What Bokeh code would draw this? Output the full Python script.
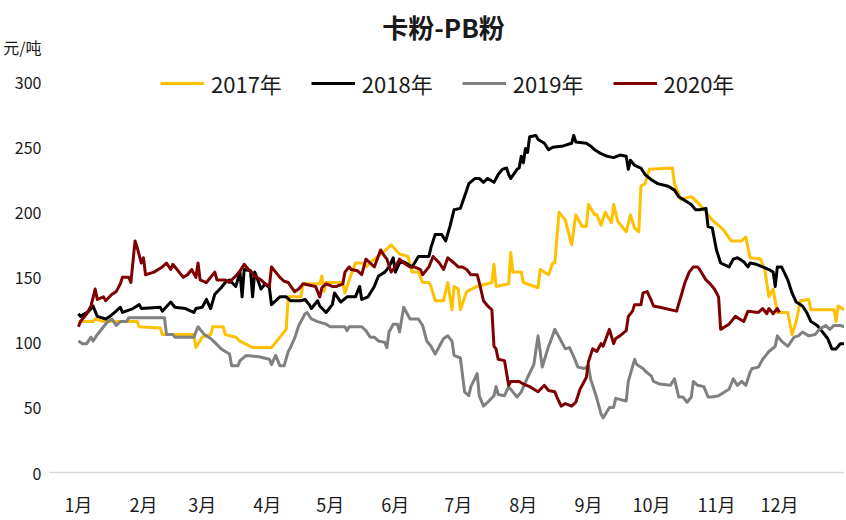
from bokeh.plotting import figure
from bokeh.models import Range1d, FixedTicker, Legend, LegendItem, Label
from bokeh.embed import file_html
from bokeh.resources import INLINE

title_text = "卡粉-PB粉"
unit_text = "元/吨"
month_days = [0, 31, 59, 90, 120, 151, 181, 212, 243, 273, 304, 334]
month_labels = ["1月", "2月", "3月", "4月", "5月", "6月", "7月", "8月", "9月", "10月", "11月", "12月"]
y_ticks = [0, 50, 100, 150, 200, 250, 300]
series_names = ["2017年", "2018年", "2019年", "2020年"]
series_colors = ["#FFC000", "#000000", "#808080", "#7F0000"]

# (day of year, value)
s2017 = [(0,116),(7,116),(8,118),(12,116),(28,116),(29,112),(39,111),(40,106),(55,106),(56,96),(59,104),
         (63,106),(64,112),(69,112),(70,106),(75,104),(77,101),(83,96),(92,96),(99,110),(100,135),(106,135),
         (107,145),(115,145),(116,151),(117,139),(118,146),(123,146),(126,146),(127,138),(129,148),(132,161),
         (135,161),(137,158),(141,164),(145,169),(149,175),(153,168),(157,166),(159,154),(162,154),(164,146),
         (167,146),(168,143),(170,132),(174,132),(176,146),(178,125),(179,143),(181,141),(182,125),(185,139),
         (190,143),(197,146),(198,160),(199,143),(205,145),(206,169),(207,154),(211,154),(212,146),(219,142),
         (220,156),(224,152),(226,161),(227,161),(229,200),(232,194),(235,175),(237,198),(240,189),(242,189),
         (243,206),(246,198),(247,198),(249,190),(251,200),(254,192),(255,206),(257,193),(261,185),(263,198),
         (265,188),(267,185),(268,220),(270,222),(272,233),(283,234),(284,222),(287,210),(292,212),(296,206),
         (300,198),(302,194),(307,187),(308,185),(311,178),(316,178),(318,181),(320,165),(325,164),(327,156),
         (329,135),(331,141),(333,123),(338,123),(340,106),(342,116),(344,132),(348,133),(349,125),(360,125),
         (361,116),(362,128),(365,125)]

s2018 = [(0,122),(1,120),(5,124),(7,128),(9,120),(13,118),(15,120),(18,124),(20,127),(21,123),(26,126),
         (29,129),(30,126),(39,127),(40,124),(44,131),(46,127),(51,126),(55,123),(56,126),(59,127),(61,133),
         (63,126),(65,137),(68,142),(70,146),(72,148),(75,143),(77,154),(78,135),(79,156),(82,155),(83,135),
         (84,154),(85,150),(87,141),(89,145),(91,142),(92,129),(96,135),(99,135),(101,132),(106,132),(108,133),
         (110,129),(111,126),(114,132),(115,128),(118,123),(121,129),(122,138),(125,131),(128,135),(132,135),
         (134,143),(135,133),(138,135),(141,143),(143,151),(146,154),(148,158),(150,165),(151,154),(153,161),
         (155,162),(159,158),(162,166),(167,166),(168,173),(170,183),(173,183),(175,178),(177,189),(179,202),
         (182,203),(185,217),(186,222),(189,226),(191,226),(193,223),(195,226),(198,223),(200,229),(202,233),
         (204,234),(205,229),(206,226),(209,233),(210,234),(211,243),(212,238),(213,249),(214,246),(215,258),
         (218,259),(219,256),(222,253),(224,248),(226,250),(231,251),(235,253),(236,259),(237,254),(242,253),
         (244,251),(246,248),(249,245),(252,243),(255,242),(258,244),(261,243),(262,233),(263,240),(265,236),
         (268,234),(270,229),(273,225),(276,222),(281,220),(284,217),(286,212),(288,210),(292,206),(294,202),
         (296,202),(299,203),(300,189),(302,188),(304,171),(306,161),(310,158),(312,164),(314,165),(317,162),
         (319,158),(320,161),(323,160),(326,158),(329,156),(331,154),(332,143),(333,158),(335,158),(338,148),
         (340,138),(342,131),(345,128),(347,123),(349,116),(352,113),(354,109),(357,103),(359,95),(361,95),
         (363,99),(365,99)]

s2019 = [(0,101),(2,99),(4,99),(6,104),(7,101),(9,106),(12,112),(14,116),(16,118),(18,113),(20,116),
         (23,116),(24,119),(41,119),(42,106),(45,106),(46,104),(55,104),(57,112),(60,106),(63,103),(65,100),
         (68,95),(70,93),(72,91),(73,82),(76,82),(77,86),(80,90),(86,89),(91,87),(92,83),(94,90),(96,82),
         (98,82),(100,93),(101,96),(103,103),(105,113),(108,122),(109,123),(111,118),(114,116),(118,114),
         (120,112),(127,112),(128,109),(129,112),(135,112),(137,109),(139,104),(141,104),(143,101),(146,100),
         (147,96),(148,108),(150,114),(152,114),(153,108),(155,127),(158,118),(162,118),(164,113),(166,101),
         (168,97),(170,91),(172,97),(174,103),(176,105),(178,101),(179,90),(182,88),(184,62),(186,59),(187,66),
         (190,76),(191,59),(193,51),(195,54),(198,59),(199,66),(200,60),(203,59),(205,66),(207,62),(209,58),
         (211,62),(214,73),(217,83),(219,105),(221,81),(224,97),(225,101),(227,110),(230,101),(232,95),
         (234,96),(236,89),(238,81),(241,80),(243,82),(244,72),(247,57),(249,45),(250,42),(253,50),(255,50),
         (256,57),(261,55),(262,70),(265,87),(266,83),(269,80),(270,78),(273,74),(274,70),(277,68),(282,67),
         (284,72),(286,58),(288,58),(290,54),(292,58),(293,70),(295,67),(298,66),(300,58),(302,58),(305,59),
         (308,62),(310,64),(312,72),(314,67),(316,70),(318,67),(320,77),(321,80),(324,81),(326,87),(329,93),
         (332,97),(333,105),(335,101),(338,97),(341,104),(343,105),(345,108),(348,105),(351,106),(353,110),
         (356,113),(358,110),(360,113),(363,113),(365,112)]

s2020 = [(0,112),(1,116),(4,122),(6,128),(8,141),(9,133),(12,135),(13,132),(16,137),(18,139),(20,145),
         (21,150),(24,150),(25,146),(27,178),(28,173),(30,161),(31,165),(32,152),(36,154),(38,156),(40,158),
         (42,161),(44,156),(45,160),(47,156),(50,150),(52,152),(54,156),(56,150),(57,161),(58,148),(61,146),
         (65,154),(66,148),(70,148),(72,146),(73,148),(75,151),(77,155),(79,160),(81,156),(82,155),(84,151),
         (87,148),(89,145),(91,143),(92,158),(94,154),(96,150),(98,147),(100,146),(103,139),(105,141),(107,145),
         (113,143),(115,135),(116,142),(118,145),(121,143),(123,143),(126,145),(127,154),(129,158),(130,156),
         (133,155),(135,152),(137,164),(139,161),(141,158),(144,171),(146,166),(147,164),(149,154),(151,158),
         (153,164),(155,161),(158,158),(160,158),(163,156),(164,152),(167,158),(169,166),(172,161),(174,156),
         (176,165),(179,161),(181,158),(183,158),(185,156),(187,152),(190,152),(191,146),(193,132),(195,128),
         (197,125),(198,97),(199,95),(200,87),(203,86),(205,67),(206,70),(210,70),(212,68),(215,66),(217,64),
         (219,62),(222,67),(224,63),(227,62),(228,58),(230,51),(232,53),(235,51),(237,54),(239,64),(242,73),
         (243,85),(245,95),(247,93),(249,99),(250,97),(253,110),(255,99),(256,103),(258,105),(261,109),
         (262,120),(264,124),(265,129),(268,129),(269,138),(271,139),(273,132),(274,128),(277,127),(285,124),
         (287,135),(289,146),(291,154),(293,158),(295,158),(296,156),(299,148),(301,145),(303,141),(305,135),
         (306,110),(308,112),(310,114),(313,120),(315,118),(317,116),(319,124),(324,123),(326,126),(328,122),
         (329,126),(331,122),(333,126),(334,123)]

all_series = [s2017, s2018, s2019, s2020]

FONT = "Noto Sans CJK SC"
UNIT_LABEL_Y = 327  # where the unit caption sits on the value scale (layout only)

p = figure(width=844, height=519, output_backend="svg", toolbar_location=None,
           x_range=Range1d(-13.76, 365), y_range=Range1d(0, 362.75),
           min_border_left=46, min_border_right=0, min_border_top=0, min_border_bottom=45)
p.outline_line_color = None
p.xgrid.visible = False
p.ygrid.visible = False
p.background_fill_color = "white"
p.border_fill_color = "white"

renderers = []
for data, color in zip(all_series, series_colors):
    xs = [d for d, _ in data]
    ys = [v for _, v in data]
    r = p.line(xs, ys, line_color=color, line_width=3, line_join="round")
    renderers.append(r)

p.xaxis.ticker = FixedTicker(ticks=month_days)
p.xaxis.major_label_overrides = {d: lab for d, lab in zip(month_days, month_labels)}
p.xaxis.axis_line_color = "#D9D9D9"
p.xaxis.axis_line_width = 1.5
p.xaxis.major_tick_line_color = None
p.xaxis.minor_tick_line_color = None
p.xaxis.major_tick_out = 0
p.xaxis.minor_tick_out = 0
p.xaxis.major_label_standoff = 18
p.xaxis.major_label_text_font = FONT
p.xaxis.major_label_text_font_size = "18px"
p.xaxis.major_label_text_color = "#1a1a1a"

p.yaxis.ticker = FixedTicker(ticks=y_ticks + [UNIT_LABEL_Y])
p.yaxis.major_label_overrides = {UNIT_LABEL_Y: unit_text}
p.yaxis.axis_line_color = None
p.yaxis.major_tick_line_color = None
p.yaxis.minor_tick_line_color = None
p.yaxis.major_tick_out = 0
p.yaxis.minor_tick_out = 0
p.yaxis.major_label_standoff = 8
p.yaxis.major_label_text_font = FONT
p.yaxis.major_label_text_font_size = "16px"
p.yaxis.major_label_text_color = "#1a1a1a"

legend = Legend(items=[LegendItem(label=n, renderers=[r]) for n, r in zip(series_names, renderers)],
                orientation="horizontal", location=(111, 373),
                padding=0, margin=0, border_line_color=None, background_fill_alpha=0,
                glyph_width=44, glyph_height=20, label_standoff=7, spacing=29,
                label_text_font=FONT, label_text_font_size="22px", label_text_color="#1a1a1a",
                label_height=20)
p.add_layout(legend)

p.add_layout(Label(x=394, y=446, x_units="screen", y_units="screen", text=title_text,
                   text_font=FONT, text_font_size="26px", text_font_style="bold",
                   text_align="center", text_baseline="middle", text_color="#1a1a1a"))

open("out.html", "w").write(file_html(p, INLINE))
